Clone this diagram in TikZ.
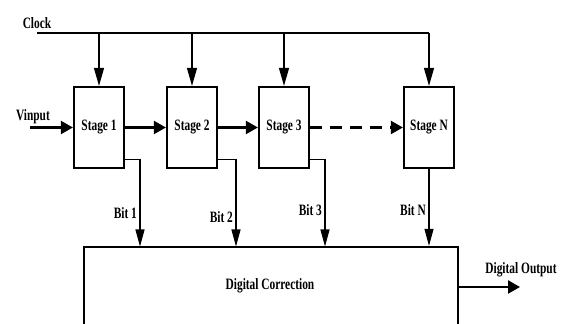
\documentclass[tikz,border=0pt]{standalone}
\usepackage{fontspec}
\setmainfont{Liberation Serif}[FakeStretch=0.72]
\usetikzlibrary{arrows.meta,positioning,calc}
\tikzset{
    every picture/.style={line join=miter},
    sigtext/.style={font=\bfseries\fontsize{9}{10}\selectfont,inner sep=1pt},
    stagebox/.style={draw,line width=1.3pt,minimum width=10mm,minimum height=16.2mm,
      inner sep=1pt,sigtext},
    corrbox/.style={draw,line width=1.3pt,minimum width=74.8mm,minimum height=20mm},
    busline/.style={draw,line width=1.3pt},
    flowarrow/.style={-{Triangle[length=2.4mm,width=2.6mm]},line width=1.3pt},
    clkarrow/.style={-{Triangle[length=3.6mm,width=2mm]},line width=0.7pt},
    bitarrow/.style={-{Triangle[length=3.4mm,width=1.8mm]},line width=0.6pt},
    bitlabel/.style={sigtext,left,inner sep=1.5pt}
}
\begin{document}
\begin{tikzpicture}[x=0.02cm,y=0.02cm]
  \useasboundingbox (0,0) rectangle (562,324);
  \clip (0,0) rectangle (562,324);
  % pipeline stages
  \node[stagebox] (stage1) at (99,196.5) {Stage 1};
  \node[stagebox] (stage2) at (192,196.5) {Stage 2};
  \node[stagebox] (stage3) at (284,196.5) {Stage 3};
  \node[stagebox] (stageN) at (429,196.5) {Stage N};
  \node[corrbox] (corr) at (271,27) {};
  \node[sigtext] (corrtxt) at (270,38) {Digital Correction};
  % clock bus
  \coordinate (clkL) at (37,291);
  \coordinate (clkR) at (429,291);
  \node[sigtext] (clklbl) at (37,301) {Clock};
  \draw[busline] (clkL) -- (clkR);
  \foreach \s in {stage1,stage2,stage3,stageN}
    \draw[clkarrow] (\s.north |- clkL) -- (\s.north);
  % analog path
  \coordinate (vin) at (30,196.5);
  \node[sigtext] (vinlbl) at (33,207) {Vinput};
  \draw[flowarrow] (vin) -- (stage1);
  \draw[flowarrow] (stage1) -- (stage2);
  \draw[flowarrow] (stage2) -- (stage3);
  \draw[flowarrow,dash pattern=on 2.4mm off 1.6mm] (stage3) -- (stageN);
  % bits to correction logic
  \coordinate (b1) at (140,77.5);
  \coordinate (b2) at (236,77.5);
  \coordinate (b3) at (325,77.5);
  \draw[bitarrow] ([yshift=2mm]stage1.south east) -| node[bitlabel,pos=0.81] (bit1) {Bit 1} (b1);
  \draw[bitarrow] ([yshift=2mm]stage2.south east) -| node[bitlabel,pos=0.83] (bit2) {Bit 2} (b2);
  \draw[bitarrow] ([yshift=2mm]stage3.south east) -| node[bitlabel,pos=0.79] (bit3) {Bit 3} (b3);
  \draw[bitarrow] (stageN.south) -- node[bitlabel,pos=0.53] (bitN) {Bit N} (stageN.south |- corr.north);
  % output
  \coordinate (dout) at (520,37);
  \node[sigtext] (doutlbl) at (521,54) {Digital Output};
  \draw[flowarrow] (corr.east |- dout) -- (dout);
\end{tikzpicture}
\end{document}
